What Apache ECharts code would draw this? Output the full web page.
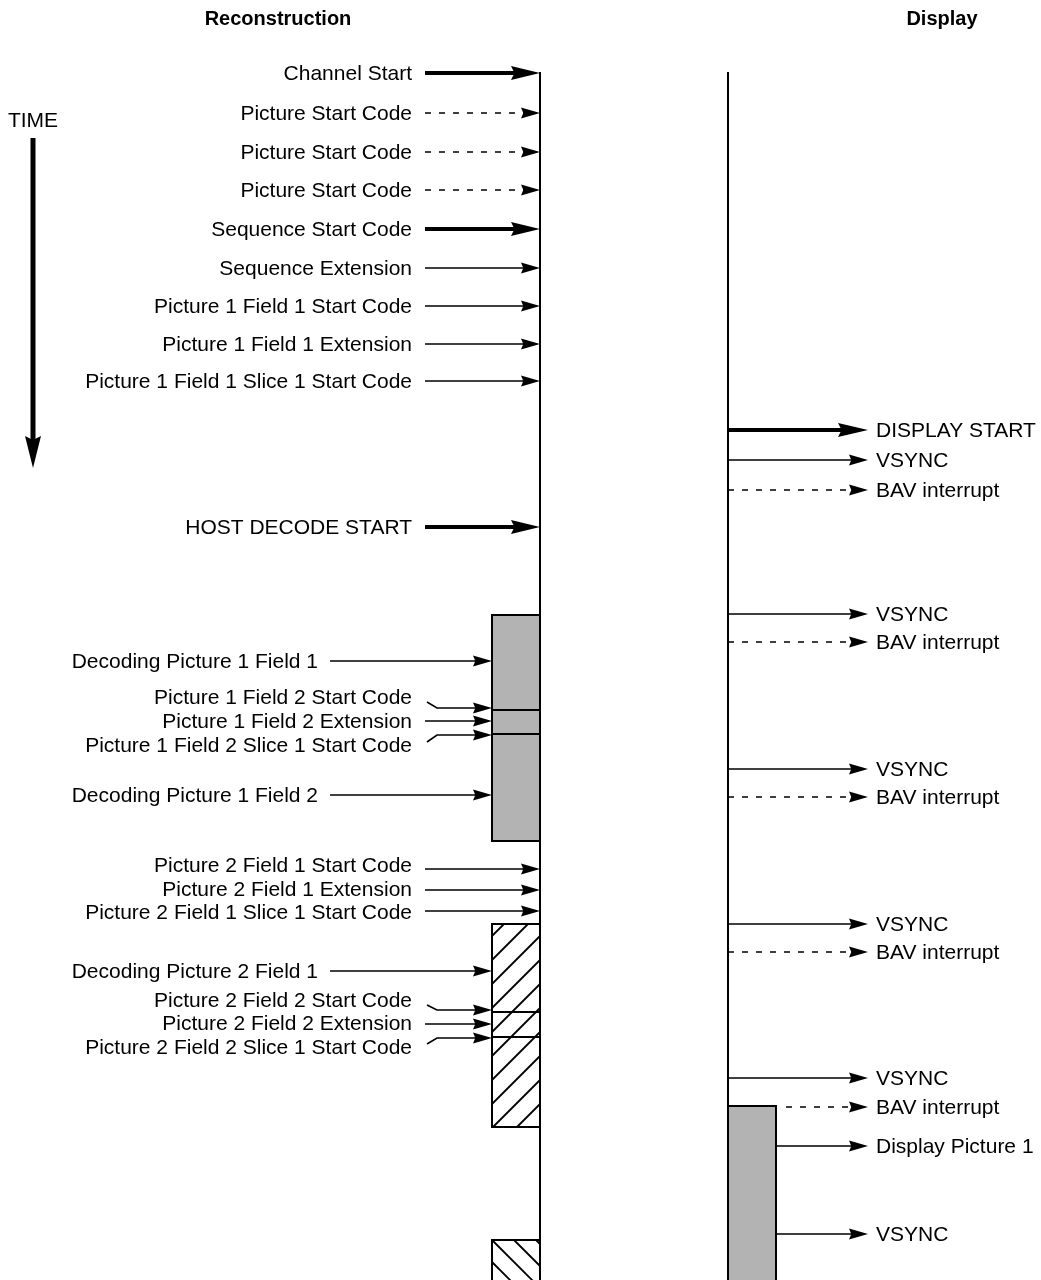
<!DOCTYPE html>
<html>
<head>
<meta charset="utf-8">
<script src="https://cdn.jsdelivr.net/npm/echarts@6/dist/echarts.min.js"></script>
<style>
html,body{margin:0;padding:0;background:#fff;}
#chart{width:1041px;height:1280px;}
</style>
</head>
<body>
<div id="chart"></div>
<script>
// ---------------- DATA ----------------
const headers = ['Reconstruction', 'Display'];
const timeLabel = 'TIME';

const reconLabels = [
  'Channel Start', 'Picture Start Code', 'Picture Start Code', 'Picture Start Code',
  'Sequence Start Code', 'Sequence Extension', 'Picture 1 Field 1 Start Code',
  'Picture 1 Field 1 Extension', 'Picture 1 Field 1 Slice 1 Start Code', 'HOST DECODE START',
  'Decoding Picture 1 Field 1', 'Picture 1 Field 2 Start Code', 'Picture 1 Field 2 Extension',
  'Picture 1 Field 2 Slice 1 Start Code', 'Decoding Picture 1 Field 2',
  'Picture 2 Field 1 Start Code', 'Picture 2 Field 1 Extension', 'Picture 2 Field 1 Slice 1 Start Code',
  'Decoding Picture 2 Field 1', 'Picture 2 Field 2 Start Code', 'Picture 2 Field 2 Extension',
  'Picture 2 Field 2 Slice 1 Start Code'
];
const reconEventTimes = [73, 113, 152, 190, 229, 268, 306, 344, 381, 527, 661, 708, 721, 735, 795, 869, 890, 911, 971, 1010, 1024, 1038];
const reconLabelTimes = [74, 114, 153, 191, 230, 269, 307, 345, 382, 528, 662, 698, 722, 746, 796, 866, 890, 913, 972, 1001, 1024, 1048];
const reconKinds = ['start', 'code', 'code', 'code', 'start', 'event', 'event', 'event', 'event', 'start',
  'decode', 'event', 'event', 'event', 'decode', 'event', 'event', 'event', 'decode', 'event', 'event', 'event'];

const decodeStarts = [615, 924, 1240];
const decodeEnds = [841, 1127, 1300];
const decodeSplits = [[710, 734], [1012, 1037], []];
const decodeFills = ['solid', 'hatch', 'hatchBack'];

const dispLabels = ['DISPLAY START', 'VSYNC', 'BAV interrupt', 'VSYNC', 'BAV interrupt', 'VSYNC', 'BAV interrupt',
  'VSYNC', 'BAV interrupt', 'VSYNC', 'BAV interrupt', 'Display Picture 1', 'VSYNC'];
const dispTimes = [430, 460, 490, 614, 642, 769, 797, 924, 952, 1078, 1107, 1146, 1234];
const dispKinds = ['start', 'vsync', 'bav', 'vsync', 'bav', 'vsync', 'bav', 'vsync', 'bav', 'vsync', 'bav', 'event', 'vsync'];

const displayBlockStarts = [1106];
const displayBlockEnds = [1300];

const timelineStart = 72, timelineEnd = 1300;
const timeArrowStart = 138, timeArrowEnd = 468;

// ---------------- LAYOUT (code constants) ----------------
const FONT = '21px "Liberation Sans", Arial, sans-serif';
const HFONT = 'bold 20px "Liberation Sans", Arial, sans-serif';
const RECON_X = 540, BOX_W = 48, DISP_X = 728;
const GRAY = '#b3b3b3';

function head(tipX, y, len, half) {
  return {
    type: 'polygon',
    shape: { points: [[tipX, y], [tipX - len, y - half], [tipX - len + len * 0.12, y], [tipX - len, y + half]] },
    style: { fill: '#000', stroke: null }
  };
}
function styleFor(kind) {
  if (kind === 'start') return { lw: 4, len: 29, half: 7, dash: null };
  if (kind === 'code' || kind === 'bav') return { lw: 1.6, len: 19, half: 5.5, dash: [6, 8] };
  return { lw: 1.6, len: 19, half: 5.5, dash: null };
}
function inBlock(t, starts, ends) {
  for (let k = 0; k < starts.length; k++) if (t >= starts[k] && t <= ends[k]) return k;
  return -1;
}

function renderRecon(params, api) {
  const i = params.dataIndex;
  const p = api.coord([RECON_X, api.value(1)]);
  const lp = api.coord([RECON_X, api.value(2)]);
  const y = p[1], ly = lp[1];
  const kind = reconKinds[i];
  const s = styleFor(kind);
  const blk = inBlock(api.value(1), decodeStarts, decodeEnds);
  const tipX = blk >= 0 ? p[0] - BOX_W : p[0];
  const isDecode = kind === 'decode';
  const labelRight = isDecode ? 318 : 412;
  const startX = isDecode ? 330 : 425;
  const children = [];
  children.push({
    type: 'text',
    style: { text: reconLabels[i], x: labelRight, y: ly, align: 'right', verticalAlign: 'middle', font: FONT, fill: '#000' }
  });
  const lineEnd = tipX - s.len + s.len * 0.3;
  if (Math.abs(ly - y) > 6) {
    const dir = y > ly ? 1 : -1;
    children.push({
      type: 'polyline',
      shape: { points: [[startX + 2, ly + dir * 4], [startX + 12, y], [lineEnd, y]] },
      style: { stroke: '#000', lineWidth: s.lw, fill: null }
    });
  } else {
    children.push({
      type: 'line',
      shape: { x1: startX, y1: y, x2: lineEnd, y2: y },
      style: { stroke: '#000', lineWidth: s.lw, lineDash: s.dash }
    });
  }
  children.push(head(tipX, y, s.len, s.half));
  return { type: 'group', children };
}

function renderDisplay(params, api) {
  const i = params.dataIndex;
  const p = api.coord([DISP_X, api.value(1)]);
  const y = p[1];
  const kind = dispKinds[i];
  const s = styleFor(kind);
  const len = kind === 'start' ? 30 : 19;
  const blk = inBlock(api.value(1), displayBlockStarts, displayBlockEnds);
  const startX = blk >= 0 ? p[0] + BOX_W + (s.dash ? 10 : 0) : p[0];
  const tipX = 868;
  const lineEnd = tipX - len + len * 0.3;
  return {
    type: 'group',
    children: [
      { type: 'line', shape: { x1: startX, y1: y, x2: lineEnd, y2: y }, style: { stroke: '#000', lineWidth: s.lw, lineDash: s.dash } },
      head(tipX, y, len, s.half),
      { type: 'text', style: { text: dispLabels[i], x: 876, y: y + 1, align: 'left', verticalAlign: 'middle', font: FONT, fill: '#000' } }
    ]
  };
}

function hatchLines(x0, y0, x1, y1, spacing, back, phase) {
  const out = [];
  if (!back) {
    for (let c = x0 + y0 + phase; c <= x1 + y1; c += spacing) {
      const lo = Math.max(x0, c - y1), hi = Math.min(x1, c - y0);
      if (hi - lo > 0.5) out.push([[lo, c - lo], [hi, c - hi]]);
    }
  } else {
    for (let c = y0 - x1 + phase; c <= y1 - x0; c += spacing) {
      const lo = Math.max(x0, y0 - c), hi = Math.min(x1, y1 - c);
      if (hi - lo > 0.5) out.push([[lo, lo + c], [hi, hi + c]]);
    }
  }
  return out;
}

function renderBlock(params, api) {
  const i = params.dataIndex;
  const top = api.coord([RECON_X, api.value(1)]);
  const bot = api.coord([RECON_X, api.value(2)]);
  const x1 = top[0], x0 = x1 - BOX_W, y0 = top[1], y1 = bot[1];
  const fill = decodeFills[i];
  const children = [];
  children.push({ type: 'rect', shape: { x: x0, y: y0, width: BOX_W, height: y1 - y0 },
    style: { fill: fill === 'solid' ? GRAY : '#fff', stroke: null } });
  if (fill !== 'solid') {
    const segs = fill === 'hatch' ? hatchLines(x0, y0, x1, y1, 24, false, 12) : hatchLines(x0, y0, x1, y1, 22, true, 4);
    segs.forEach(sg => children.push({ type: 'line', shape: { x1: sg[0][0], y1: sg[0][1], x2: sg[1][0], y2: sg[1][1] },
      style: { stroke: '#000', lineWidth: 1.8 } }));
  }
  children.push({ type: 'rect', shape: { x: x0, y: y0, width: BOX_W, height: y1 - y0 },
    style: { fill: null, stroke: '#000', lineWidth: 2 } });
  decodeSplits[i].forEach(t => {
    const sy = api.coord([RECON_X, t])[1];
    children.push({ type: 'line', shape: { x1: x0, y1: sy, x2: x1, y2: sy }, style: { stroke: '#000', lineWidth: 2 } });
  });
  return { type: 'group', children };
}

function renderDispBlock(params, api) {
  const top = api.coord([DISP_X, api.value(1)]);
  const bot = api.coord([DISP_X, api.value(2)]);
  return { type: 'rect', shape: { x: top[0], y: top[1], width: BOX_W, height: bot[1] - top[1] },
    style: { fill: GRAY, stroke: '#000', lineWidth: 2 } };
}

function renderFrame(params, api) {
  const a = api.coord([RECON_X, timelineStart]), b = api.coord([RECON_X, timelineEnd]);
  const c = api.coord([DISP_X, timelineStart]), d = api.coord([DISP_X, timelineEnd]);
  const ts = api.coord([33, timeArrowStart]), te = api.coord([33, timeArrowEnd]);
  return {
    type: 'group',
    children: [
      { type: 'line', shape: { x1: a[0], y1: a[1], x2: b[0], y2: b[1] }, style: { stroke: '#000', lineWidth: 2 } },
      { type: 'line', shape: { x1: c[0], y1: c[1], x2: d[0], y2: d[1] }, style: { stroke: '#000', lineWidth: 2 } },
      { type: 'line', shape: { x1: ts[0], y1: ts[1], x2: te[0], y2: te[1] - 26 }, style: { stroke: '#000', lineWidth: 5 } },
      { type: 'polygon', shape: { points: [[te[0], te[1]], [te[0] - 8, te[1] - 32], [te[0], te[1] - 28], [te[0] + 8, te[1] - 32]] }, style: { fill: '#000' } },
      { type: 'text', style: { text: timeLabel, x: 33, y: 121, align: 'center', verticalAlign: 'middle', font: FONT, fill: '#000' } },
      { type: 'text', style: { text: headers[0], x: 278, y: 19, align: 'center', verticalAlign: 'middle', font: HFONT, fill: '#000' } },
      { type: 'text', style: { text: headers[1], x: 942, y: 19, align: 'center', verticalAlign: 'middle', font: HFONT, fill: '#000' } }
    ]
  };
}

const chart = echarts.init(document.getElementById('chart'), null, { renderer: 'canvas' });
chart.setOption({
  animation: false,
  backgroundColor: '#fff',
  grid: { left: 0, top: 0, right: 0, bottom: 0 },
  xAxis: { type: 'value', min: 0, max: 1041, show: false },
  yAxis: { type: 'value', min: 0, max: 1280, inverse: true, show: false },
  series: [
    { type: 'custom', clip: false, renderItem: renderBlock, z: 1,
      data: decodeStarts.map((s, k) => [RECON_X, s, decodeEnds[k]]) },
    { type: 'custom', clip: false, renderItem: renderDispBlock, z: 1,
      data: displayBlockStarts.map((s, k) => [DISP_X, s, displayBlockEnds[k]]) },
    { type: 'custom', clip: false, renderItem: renderFrame, z: 2, data: [[0, timelineStart]] },
    { type: 'custom', clip: false, renderItem: renderRecon, z: 3,
      data: reconEventTimes.map((t, k) => [RECON_X, t, reconLabelTimes[k]]) },
    { type: 'custom', clip: false, renderItem: renderDisplay, z: 3,
      data: dispTimes.map(t => [DISP_X, t]) }
  ]
});
</script>
</body>
</html>
